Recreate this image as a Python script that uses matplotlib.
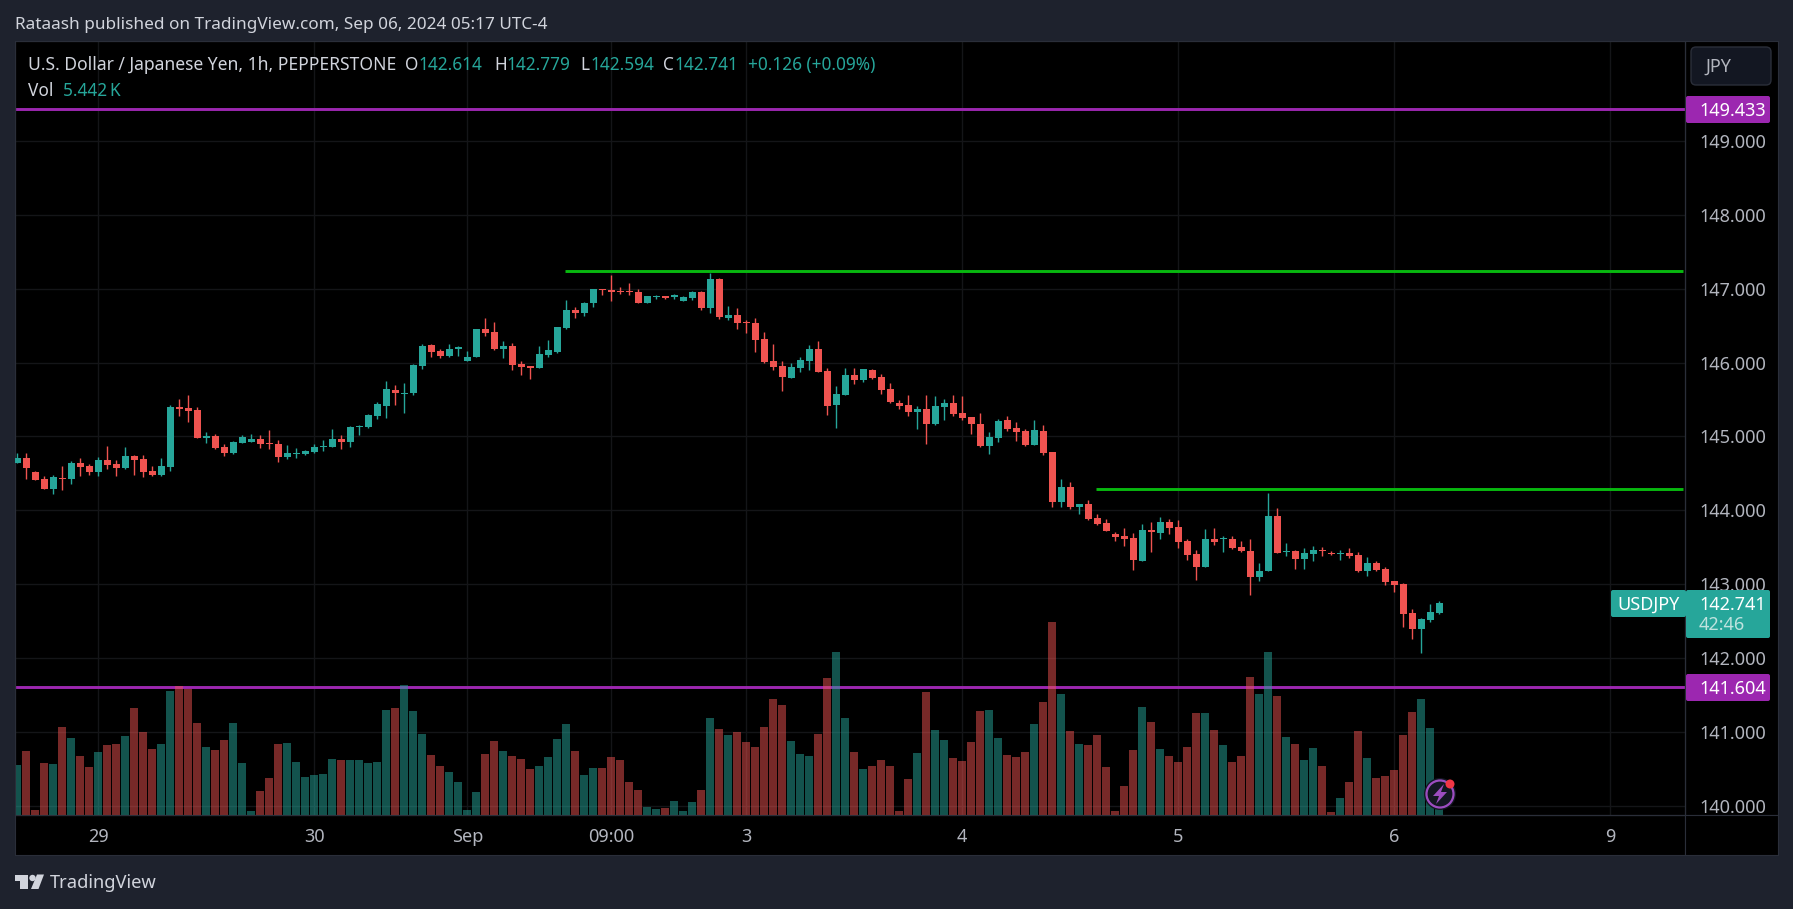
import matplotlib
matplotlib.use('Agg')
import matplotlib.pyplot as plt
from matplotlib.patches import FancyBboxPatch, Circle, Polygon

opens = [144.640,144.708,144.518,144.423,144.288,144.437,144.423,144.640,144.599,144.518,144.680,144.626,144.572,144.735,144.694,144.532,144.477,144.586,145.398,145.384,145.357,144.978,145.005,144.856,144.775,144.910,144.924,144.965,144.910,144.897,144.721,144.762,144.762,144.789,144.856,144.856,144.965,144.924,145.127,145.127,145.276,145.411,145.628,145.574,
         145.587,145.953,146.237,146.156,146.088,146.183,146.020,146.074,146.453,146.413,146.183,146.223,145.980,145.953,145.926,146.101,146.142,146.467,146.710,146.670,146.805,146.995,146.981,146.968,146.968,146.954,146.805,146.886,146.900,146.886,146.832,146.873,146.954,146.737,147.130,146.602,146.643,146.548,146.534,146.318,
         146.021,145.953,145.790,145.926,146.021,146.183,145.885,145.425,145.560,145.831,145.763,145.899,145.804,145.642,145.452,145.425,145.330,145.371,145.168,145.398,145.452,145.317,145.263,145.168,144.870,144.979,145.222,145.114,145.073,144.884,145.073,144.789,
         144.112,144.315,144.045,144.085,143.896,143.828,143.679,143.652,143.625,143.314,143.733,143.693,143.842,143.774,143.585,143.409,143.233,143.612,143.612,143.612,143.503,143.449,143.097,143.179,143.923,143.436,143.449,143.341,143.409,143.463,143.422,143.409,143.422,143.395,143.179,143.287,143.206,143.043,143.003,142.610,142.394,142.516,142.614]
highs = [144.775,144.775,144.532,144.464,144.477,144.599,144.667,144.708,144.626,144.721,144.870,144.680,144.856,144.748,144.748,144.599,144.708,145.425,145.506,145.560,145.398,145.059,145.032,144.897,144.938,145.019,145.032,145.019,145.086,144.951,144.883,144.843,144.816,144.897,144.951,145.100,145.019,145.141,145.154,145.303,145.465,145.749,145.695,145.722,
         145.980,146.250,146.250,146.183,146.250,146.223,146.156,146.453,146.602,146.548,146.291,146.264,146.020,145.953,146.223,146.304,146.480,146.846,146.751,146.819,146.995,146.995,147.184,147.022,147.076,146.995,146.900,146.913,146.900,146.927,146.900,146.968,146.968,147.211,147.143,146.765,146.737,146.575,146.602,146.413,
         146.251,146.021,145.993,146.075,146.237,146.291,145.926,145.682,145.926,145.926,145.912,145.912,145.845,145.723,145.493,145.560,145.412,145.560,145.547,145.506,145.560,145.547,145.263,145.317,145.060,145.236,145.276,145.195,145.100,145.222,145.154,144.789,
         144.424,144.383,144.085,144.139,143.950,143.882,143.706,143.760,143.693,143.815,143.842,143.909,143.882,143.869,143.612,143.463,143.747,143.760,143.652,143.652,143.585,143.612,143.287,144.234,144.031,143.557,143.463,143.490,143.517,143.503,143.449,143.463,143.490,143.436,143.368,143.314,143.233,143.043,143.016,142.664,142.543,142.732,142.779]
lows = [144.640,144.423,144.410,144.288,144.220,144.275,144.356,144.464,144.477,144.464,144.559,144.464,144.559,144.477,144.450,144.464,144.464,144.532,145.276,145.195,144.978,144.910,144.829,144.735,144.762,144.910,144.924,144.843,144.829,144.653,144.694,144.708,144.748,144.775,144.802,144.856,144.829,144.856,145.019,145.113,145.235,145.249,145.425,145.316,
        145.560,145.912,146.074,146.061,146.074,146.088,146.020,146.074,146.359,146.169,146.061,145.899,145.831,145.777,145.926,146.074,146.129,146.453,146.602,146.629,146.751,146.913,146.832,146.927,146.913,146.805,146.805,146.859,146.859,146.859,146.832,146.846,146.710,146.670,146.589,146.575,146.453,146.399,146.142,145.993,
        145.899,145.615,145.790,145.872,145.899,145.872,145.290,145.114,145.560,145.709,145.736,145.777,145.574,145.452,145.371,145.276,145.100,144.897,145.154,145.222,145.276,145.222,145.033,144.857,144.762,144.924,145.073,144.938,144.870,144.884,144.749,144.050,
        144.045,144.018,143.950,143.869,143.801,143.720,143.585,143.517,143.192,143.314,143.436,143.612,143.679,143.490,143.327,143.057,143.233,143.530,143.436,143.476,143.436,142.854,143.043,143.179,143.422,143.382,143.206,143.206,143.314,143.382,143.395,143.327,143.355,143.165,143.111,143.179,142.989,142.894,142.421,142.258,142.069,142.488,142.594]
closes = [144.708,144.572,144.410,144.288,144.450,144.423,144.640,144.586,144.518,144.680,144.613,144.572,144.735,144.680,144.518,144.477,144.599,145.398,145.371,145.344,144.978,145.005,144.843,144.775,144.924,144.992,144.965,144.897,144.897,144.721,144.775,144.775,144.802,144.856,144.870,144.965,144.924,145.127,145.141,145.289,145.438,145.641,145.587,145.587,
          145.966,146.223,146.142,146.088,146.183,146.210,146.074,146.453,146.399,146.183,146.223,145.966,145.939,145.926,146.115,146.169,146.480,146.710,146.670,146.805,146.995,146.981,146.954,146.954,146.954,146.805,146.900,146.900,146.873,146.913,146.886,146.954,146.737,147.130,146.616,146.643,146.534,146.534,146.304,146.007,
          145.939,145.804,145.939,146.034,146.183,145.872,145.412,145.574,145.831,145.763,145.912,145.790,145.628,145.466,145.412,145.330,145.371,145.168,145.412,145.452,145.303,145.249,145.168,144.870,144.992,145.209,145.100,145.060,144.884,145.087,144.776,144.113,
          144.315,144.045,144.085,143.882,143.815,143.720,143.639,143.612,143.327,143.733,143.706,143.842,143.760,143.571,143.395,143.233,143.612,143.571,143.612,143.490,143.449,143.097,143.179,143.923,143.422,143.449,143.341,143.422,143.463,143.449,143.409,143.422,143.382,143.179,143.287,143.192,143.030,142.989,142.597,142.394,142.529,142.624,142.741]
volumes = [16.7,21.3,1.7,17.3,17,29.3,25.7,19.7,16,21,23.3,23.7,26.3,35.7,27.7,22,23.7,41.3,43,42,30.7,22.7,21.7,25,30.7,17.3,1.3,8,12.3,23.7,24,17.7,12.7,13.3,13.7,18.7,18.3,18.3,18.3,17.3,17.7,35,35.7,43.3,34.7,27,20,16.3,14.3,11,
           1.7,7.7,20.3,24.7,21.3,19.7,18.7,15.3,16.3,19.3,25.3,30.3,21.3,13.3,15.7,15.7,19.3,18.3,11,8.3,2.7,2,2.3,4.7,1.3,4.3,8.3,32.3,28.7,26.7,27.7,24.3,22.7,29.3,38.7,36.7,24.7,20.3,19.7,27,45.7,54.3,32.3,21,15.3,16.3,18.3,16.3,1.3,
           12,20.7,41,28.3,25,19,18,24.3,34.7,35,25.7,20,19.3,21,30.3,37.7,64.3,40.3,28,23.7,23.3,26.7,16,1.3,9.7,21.7,36,31,22,19.7,17.7,22.7,34,34,28.3,23.3,17.7,19.7,46,40.3,54.3,39.7,26,23.7,18.3,22.3,16.3,1,5.7,11,28,19,12.3,13,15,26.7,34.3,38.7,29,5.442]

price_ticks = [140,141,142,143,144,145,146,147,148,149]
time_pos = [9,33,50,66,81,105,129,153,177]
time_labels = ['29','30','Sep','09:00','3','4','5','6','9']
purple_levels = [149.433,141.604]
green_levels = [(60.85,147.24),(119.8,144.29)]

UP = '#26a69a'
DOWN = '#ef5350'
PURPLE = '#9c27b0'
GREEN = '#08b80f'
BG = '#1e222d'
GRID = '#141518'
BORDER = '#2a2e39'
FONT = 'Noto Sans'

W, H = 1793, 909
plt.rcParams['font.family'] = FONT

def box(x0,y0,x1,y1):
    # pixel box from the top left corner -> figure fractions
    return [x0/W, 1-y1/H, (x1-x0)/W, (y1-y0)/H]

fig = plt.figure(figsize=(W/100,H/100),dpi=100,facecolor=BG)
ax = fig.add_axes(box(15,41,1685,815),facecolor='black')
ax_time = fig.add_axes(box(15,815,1685,855),facecolor='black')
ax_scale = fig.add_axes(box(1685,41,1778,815),facecolor='black')
ax_corner = fig.add_axes(box(1685,815,1778,855),facecolor='black')
ax_corner.set_xticks([]); ax_corner.set_yticks([])

xlim = (-0.256,185.3)
ylim = (139.877,150.351)
ax.set_xlim(xlim); ax.set_ylim(ylim)
ax.set_xticks(time_pos); ax.set_yticks(price_ticks)
ax.tick_params(length=0,labelbottom=False,labelleft=False)
ax.grid(True,color=GRID,lw=1)
ax.set_axisbelow(True)

idx = list(range(len(closes)))
colors = [UP if c>=o else DOWN for o,c in zip(opens,closes)]

# volume goes behind the candles, on its own scale
ax_vol = ax.twinx()
ax_vol.set_ylim(0,258)
ax_vol.set_yticks([])
ax_vol.bar(idx,volumes,width=0.88,color=colors,alpha=0.5,linewidth=0,zorder=3)
ax.set_zorder(1); ax_vol.set_zorder(2); ax_vol.patch.set_visible(False)

for lvl in purple_levels:
    ax.axhline(lvl,color=PURPLE,lw=2.1,zorder=2)
for start,lvl in green_levels:
    ax.plot([start,xlim[1]-0.2],[lvl,lvl],color=GREEN,lw=2.1,zorder=2,solid_capstyle='butt')

# candles on a third layer so that the bars do not tint them
ax_c = ax.twinx()
ax_c.set_ylim(ylim); ax_c.set_yticks([])
ax_c.set_zorder(3); ax_c.patch.set_visible(False)
ax_c.vlines(idx,lows,highs,colors=colors,lw=1,zorder=3)
ax_c.bar(idx,[max(abs(c-o),0.014) for o,c in zip(opens,closes)],bottom=[min(o,c) for o,c in zip(opens,closes)],
         width=0.78,color=colors,linewidth=0,zorder=4)

ax_time.set_xlim(xlim); ax_time.set_ylim(0,1)
ax_time.set_xticks(time_pos); ax_time.set_xticklabels(time_labels,color='#b2b5be',fontsize=13)
ax_time.set_yticks([])
ax_time.tick_params(length=0,pad=-19.5)

ax_scale.set_xlim(0,1); ax_scale.set_ylim(ylim)
ax_scale.set_xticks([])
ax_scale.yaxis.tick_right()
ax_scale.set_yticks(price_ticks)
ax_scale.set_yticklabels(['%.3f'%p for p in price_ticks],color='#b2b5be',fontsize=13)
ax_scale.tick_params(length=0,pad=-56.5)

for a in [ax,ax_vol,ax_c,ax_time,ax_scale,ax_corner]:
    for s in a.spines.values():
        s.set_color(BORDER); s.set_linewidth(0.8)

# overlay in pixels for the badges, header and logo
ov = fig.add_axes([0,0,1,1])
ov.set_xlim(0,W); ov.set_ylim(H,0)
ov.axis('off'); ov.patch.set_visible(False)
ov.set_zorder(10)

def badge(x0,y0,x1,y1,color):
    ov.add_patch(FancyBboxPatch((x0,y0),x1-x0,y1-y0,boxstyle='round,pad=0,rounding_size=2',fc=color,ec='none'))

badge(1686,96,1770,123,PURPLE)
ov.text(1699,110.5,'149.433',color='white',fontsize=13,va='center',weight=600)
badge(1686,674,1770,701,PURPLE)
ov.text(1699,688.5,'141.604',color='white',fontsize=13,va='center',weight=600)
badge(1686,590,1770,638,UP)
badge(1611,590,1686,617,UP)
ov.text(1617,604.5,'USDJPY',color='white',fontsize=13,va='center',weight=600)
ov.text(1699,604.5,'142.741',color='white',fontsize=13,va='center',weight=600)
ov.text(1699,625.5,'42:46',color='#bfe3df',fontsize=13,va='center')

ov.add_patch(FancyBboxPatch((1691,47),80,38,boxstyle='round,pad=0,rounding_size=5',fc='#131722',ec=BORDER,lw=1))
ov.text(1705,66.5,'JPY',color='#b2b5be',fontsize=13,va='center')

ov.text(15,25,'Rataash published on TradingView.com, Sep 06, 2024 05:17 UTC-4',color='#d1d4dc',fontsize=12.35,va='center')
ov.text(27.5,65,'U.S. Dollar / Japanese Yen, 1h, PEPPERSTONE',color='#d1d4dc',fontsize=12.6,va='center')
for x,s,c in [(405.5,'O','#d1d4dc'),(419,'142.614',UP),(494,'H','#d1d4dc'),(506,'142.779',UP),(580,'L','#d1d4dc'),(590,'142.594',UP),
              (663,'C','#d1d4dc'),(674,'142.741',UP),(748,'+0.126 (+0.09%)',UP)]:
    ov.text(x,65,s,color=c,fontsize=12.4,va='center')
ov.text(27.5,91,'Vol',color='#d1d4dc',fontsize=12.4,va='center')
ov.text(63,91,'5.442\u2009K',color=UP,fontsize=12.4,va='center',family=[FONT,'DejaVu Sans'])

# lightning button
ov.add_patch(Circle((1440,794),16,fc='#131722',ec='none'))
ov.add_patch(Circle((1440,794),13.5,fc='#131722',ec='#9c4dc0',lw=1.6))
ov.add_patch(Polygon([(1444,784),(1433,796),(1439,796),(1436,804),(1447,792),(1441,792)],fc='#9c4dc0',ec='none'))
ov.add_patch(Circle((1450,784),4.5,fc='#f23645',ec='none'))

# logo
ov.add_patch(Polygon([(15,874.5),(28,874.5),(28,889),(20,889),(20,881),(15,881)],fc='#d1d4dc',ec='none'))
ov.add_patch(Circle((32.5,878),3.2,fc='#d1d4dc',ec='none'))
ov.add_patch(Polygon([(37,874.5),(44,874.5),(38.5,889),(31,889)],fc='#d1d4dc',ec='none'))
ov.text(50,883,'TradingView',color='#d1d4dc',fontsize=13.2,va='center',weight=500)

fig.savefig('out.png',dpi=100,facecolor=BG)
